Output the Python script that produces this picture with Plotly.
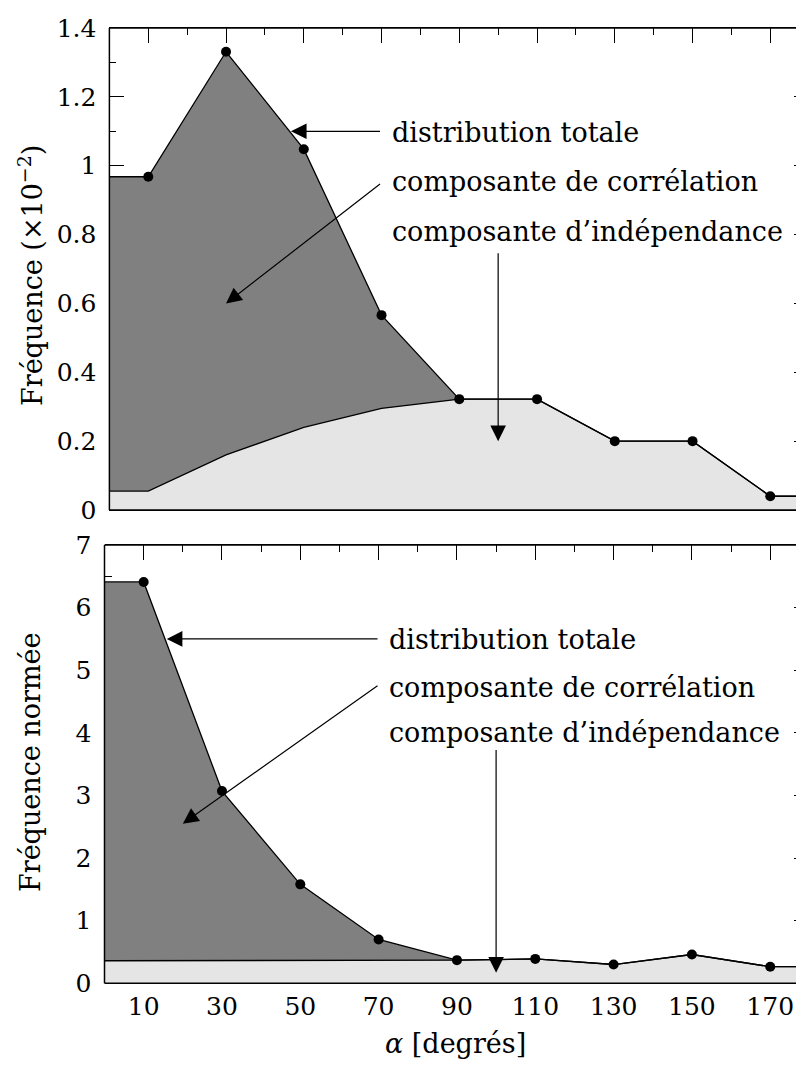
import plotly.graph_objects as go

# ---------------- data ----------------
angles = [10, 30, 50, 70, 90, 110, 130, 150, 170]
x_lo, x_hi = 0, 180

# top panel (x 1e-2)
top_total = [0.968, 1.331, 1.048, 0.566, 0.322, 0.322, 0.200, 0.200, 0.040]
top_indep = [0.055, 0.160, 0.240, 0.295, 0.322, 0.322, 0.200, 0.200, 0.040]

# bottom panel (normalised)
bot_total = [6.41, 3.07, 1.58, 0.70, 0.37, 0.39, 0.30, 0.46, 0.265]
bot_indep = [0.36, 0.36, 0.36, 0.36, 0.37, 0.39, 0.30, 0.46, 0.265]

top_yticks = [0, 0.2, 0.4, 0.6, 0.8, 1.0, 1.2, 1.4]
top_yticktext = ["0", "0.2", "0.4", "0.6", "0.8", "1", "1.2", "1.4"]
top_yminor = [0.1, 0.3, 0.5, 0.7, 0.9, 1.1, 1.3]
bot_yticks = [0, 1, 2, 3, 4, 5, 6, 7]
bot_yminor = [0.5, 1.5, 2.5, 3.5, 4.5, 5.5, 6.5]
xticks = [10, 30, 50, 70, 90, 110, 130, 150, 170]
xminor = [20, 40, 60, 80, 100, 120, 140, 160]

labels = ["distribution totale", "composante de corrélation", "composante d’indépendance"]

# ---------------- layout geometry ----------------
# page body has an 8px margin: screen pixel = figure pixel + 8
OFF = 8
W, H = 804 - OFF, 1065 - OFF
def fx(p):  # screen x px -> paper
    return (p - OFF) / W
def fy(p):  # screen y px -> paper
    return 1 - (p - OFF) / H

FONT = "DejaVu Serif"
TICKFONT = dict(family=FONT, size=25, color="black")
LABFONT = dict(family=FONT, size=27, color="black")
TFONT = dict(family=FONT, size=27, color="black")

def ext(x, y):
    return [x_lo] + list(x) + [x_hi], [y[0]] + list(y) + [y[-1]]

fig = go.Figure()

panels = [
    (top_indep, top_total, "x", "y"),
    (bot_indep, bot_total, "x2", "y2"),
]
for indep, total, xa, ya in panels:
    xi, yi = ext(angles, indep)
    xt, yt = ext(angles, total)
    fig.add_trace(go.Scatter(x=xi, y=yi, xaxis=xa, yaxis=ya, mode="lines",
                             line=dict(color="black", width=1.3),
                             fill="tozeroy", fillcolor="#e5e5e5",
                             hoverinfo="skip", showlegend=False))
    fig.add_trace(go.Scatter(x=xt, y=yt, xaxis=xa, yaxis=ya, mode="lines",
                             line=dict(color="black", width=1.3),
                             fill="tonexty", fillcolor="#808080",
                             hoverinfo="skip", showlegend=False))
    fig.add_trace(go.Scatter(x=angles, y=total, xaxis=xa, yaxis=ya, mode="markers",
                             marker=dict(color="black", size=10),
                             hoverinfo="skip", showlegend=False))

# invisible traces for right-side tick axes
fig.add_trace(go.Scatter(x=[], y=[], xaxis="x", yaxis="y3", showlegend=False))
fig.add_trace(go.Scatter(x=[], y=[], xaxis="x2", yaxis="y4", showlegend=False))

top_left, bot_left = 109.4, 104.5          # screen px of left axis
top_scale, bot_scale = 3.8875, 3.916       # px per degree
top_dom = [fy(510), fy(28)]
bot_dom = [fy(983.3), fy(545)]

common_x = dict(ticks="inside", ticklen=15, tickwidth=1.3, tickcolor="black",
                tickvals=xticks, mirror="ticks", showline=True, linecolor="black",
                linewidth=1.3, layer="below traces", showgrid=False, zeroline=False,
                minor=dict(tickvals=xminor, ticks="inside", ticklen=7,
                           tickwidth=1.3, tickcolor="black"),
                automargin=False, tickfont=TICKFONT)
common_y = dict(ticks="inside", ticklen=15, tickwidth=1.3, tickcolor="black",
                showline=False, layer="below traces", showgrid=False, zeroline=False,
                automargin=False, tickfont=TICKFONT, ticklabelstandoff=12)

fig.update_layout(
    width=W, height=H, margin=dict(l=0, r=0, t=0, b=0),
    paper_bgcolor="white", plot_bgcolor="white",
    font=dict(family=FONT, color="black"),
    xaxis=dict(domain=[fx(top_left), 1], range=[0, (804 - top_left) / top_scale],
               anchor="y", showticklabels=False, **common_x),
    yaxis=dict(domain=top_dom, range=[0, 1.4], anchor="x",
               tickvals=top_yticks, ticktext=top_yticktext,
               minor=dict(tickvals=top_yminor, ticks="inside", ticklen=7,
                          tickwidth=1.3, tickcolor="black"), **common_y),
    xaxis2=dict(domain=[fx(bot_left), 1], range=[0, (804 - bot_left) / bot_scale],
                anchor="y2", showticklabels=True, ticklabelstandoff=1, **common_x),
    yaxis2=dict(domain=bot_dom, range=[0, 7], anchor="x2",
                tickvals=bot_yticks,
                minor=dict(tickvals=bot_yminor, ticks="inside", ticklen=7,
                           tickwidth=1.3, tickcolor="black"), **common_y),
    yaxis3=dict(overlaying="y", anchor="x", side="right", range=[0, 1.4],
                tickvals=top_yticks, ticks="inside", ticklen=10, tickwidth=1.3,
                tickcolor="black", showticklabels=False, showgrid=False,
                zeroline=False, showline=False, layer="below traces",
                minor=dict(tickvals=top_yminor, ticks="inside", ticklen=2,
                           tickwidth=1.3, tickcolor="black")),
    yaxis4=dict(overlaying="y2", anchor="x2", side="right", range=[0, 7],
                tickvals=bot_yticks, ticks="inside", ticklen=10, tickwidth=1.3,
                tickcolor="black", showticklabels=False, showgrid=False,
                zeroline=False, showline=False, layer="below traces",
                minor=dict(tickvals=bot_yminor, ticks="inside", ticklen=2,
                           tickwidth=1.3, tickcolor="black")),
)

# frame lines (drawn above the fills)
for xr, yr in [("x domain", "y domain"), ("x2 domain", "y2 domain")]:
    for (x0, y0, x1, y1) in [(0, 0, 0, 1), (0, 0, 1, 0), (0, 1, 1, 1)]:
        fig.add_shape(type="line", xref=xr, yref=yr, x0=x0, y0=y0, x1=x1, y1=y1,
                      line=dict(color="black", width=1.5), layer="above")

# label texts (screen px of text centre-left)
text_px = {
    "top": [(390.0, 132.7), (390.0, 181.0), (390.0, 231.0)],
    "bot": [(387.0, 639.0), (387.0, 687.0), (387.0, 732.0)],
}
for key in ["top", "bot"]:
    for lab, (px, ppy) in zip(labels, text_px[key]):
        fig.add_annotation(text=lab, xref="paper", yref="paper", x=fx(px), y=fy(ppy),
                           xanchor="left", yanchor="middle", showarrow=False,
                           font=LABFONT)

# arrows: (tip x, tip y, tail x, tail y) in data units
top_arrows = [(46.7, 1.10, 70.0, 1.10), (30.0, 0.60, 70.0, 0.95), (100.0, 0.20, 100.0, 0.75)]
bot_arrows = [(15.9, 5.50, 70.1, 5.50), (20.0, 2.55, 70.1, 4.77), (100.0, 0.17, 100.0, 3.75)]
for arrs, xa, ya in [(top_arrows, "x", "y"), (bot_arrows, "x2", "y2")]:
    for (tx, ty, sx, sy) in arrs:
        fig.add_annotation(text="", x=tx, y=ty, ax=sx, ay=sy, xref=xa, yref=ya,
                           axref=xa, ayref=ya, showarrow=True, arrowhead=2,
                           arrowsize=2.6, arrowwidth=1.2, arrowcolor="black",
                           standoff=0, startstandoff=0)

# axis titles
fig.add_annotation(text="Fréquence (×10<sup>−2</sup>)", xref="paper", yref="paper",
                   x=fx(30), y=fy(276), textangle=-90, showarrow=False,
                   xanchor="center", yanchor="middle", font=TFONT)
fig.add_annotation(text="Fréquence normée", xref="paper", yref="paper",
                   x=fx(30), y=fy(763), textangle=-90, showarrow=False,
                   xanchor="center", yanchor="middle", font=TFONT)
fig.add_annotation(text="<i>α</i> [degrés]", xref="paper", yref="paper",
                   x=fx(455), y=fy(1043), showarrow=False,
                   xanchor="center", yanchor="middle", font=TFONT)

fig.write_html("out.html")
